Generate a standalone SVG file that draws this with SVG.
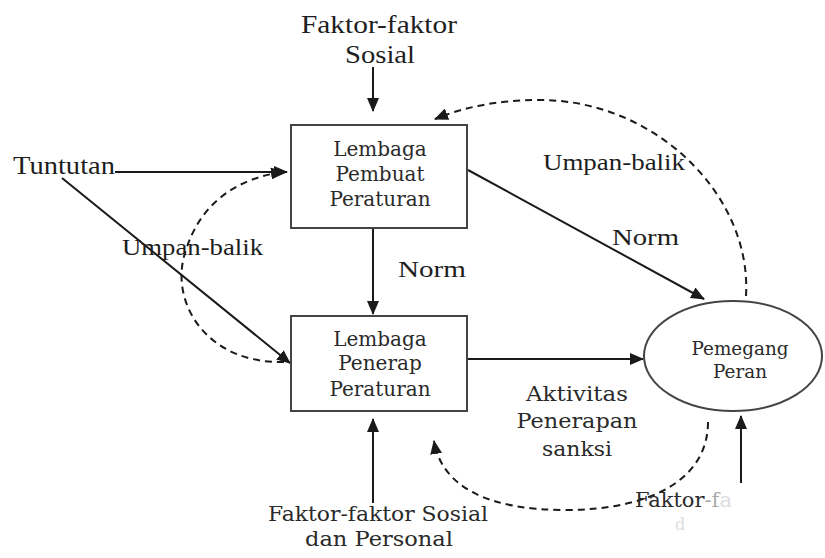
<svg xmlns="http://www.w3.org/2000/svg" width="825" height="558" viewBox="0 0 825 558">
<defs>
<marker id="ah" markerUnits="userSpaceOnUse" markerWidth="14" markerHeight="12" refX="13" refY="6" orient="auto">
<path d="M0,0 L14,6 L0,12 Z" fill="#1a1a1a"/>
</marker>
<style>
.t{font-family:"Liberation Serif","Times New Roman",serif;fill:#1e1e1e}
.c{font-family:"DejaVu Serif",serif;fill:#2a2a2a;text-anchor:middle}
.box{fill:#fff;stroke:#444;stroke-width:2}
.ln{fill:none;stroke:#1a1a1a;stroke-width:2}
.ds{fill:none;stroke:#1a1a1a;stroke-width:2;stroke-dasharray:7 5}
</style>
</defs>
<rect width="825" height="558" fill="#fff"/>
<g id="connectors">
<line class="ln" x1="373" y1="67" x2="373" y2="111" marker-end="url(#ah)"/>
<line class="ln" x1="115" y1="172" x2="287" y2="172" marker-end="url(#ah)"/>
<line class="ln" x1="62" y1="178" x2="290" y2="363" marker-end="url(#ah)"/>
<path class="ds" d="M284,362 C205,364 168,300 186,250 C200,205 235,178 284,172" marker-end="url(#ah)"/>
<line class="ln" x1="373" y1="228" x2="373" y2="314" marker-end="url(#ah)"/>
<line class="ln" x1="468" y1="170" x2="704" y2="299" marker-end="url(#ah)"/>
<line class="ln" x1="467" y1="359" x2="643" y2="359" marker-end="url(#ah)"/>
<line class="ln" x1="373" y1="503" x2="373" y2="419" marker-end="url(#ah)"/>
<line class="ln" x1="741" y1="483" x2="741" y2="416" marker-end="url(#ah)"/>
<path class="ds" d="M746,296 C752,195 655,100 540,100 C495,100 462,108 435,119" marker-end="url(#ah)"/>
<path class="ds" d="M708,422 C708,480 650,510 565,510 C490,510 442,488 434,441" marker-end="url(#ah)"/>
</g>
<g id="faktor-sosial-top">
<text class="t" x="301" y="33" style="font-size:25px" textLength="156" lengthAdjust="spacingAndGlyphs">Faktor-faktor</text>
<text class="t" x="345" y="63" style="font-size:25px" textLength="70" lengthAdjust="spacingAndGlyphs">Sosial</text>
</g>
<g id="tuntutan">
<text class="t" x="13" y="174" style="font-size:25px" textLength="102" lengthAdjust="spacingAndGlyphs">Tuntutan</text>
</g>
<g id="lembaga-pembuat">
<rect class="box" x="291" y="125" width="176" height="103"/>
<text class="c" x="380" y="156" style="font-size:20px">Lembaga</text>
<text class="c" x="380" y="181" style="font-size:20px">Pembuat</text>
<text class="c" x="380" y="206" style="font-size:20px">Peraturan</text>
</g>
<g id="lembaga-penerap">
<rect class="box" x="291" y="316" width="176" height="95"/>
<text class="c" x="380" y="346" style="font-size:20px">Lembaga</text>
<text class="c" x="380" y="370" style="font-size:20px">Penerap</text>
<text class="c" x="380" y="396" style="font-size:20px">Peraturan</text>
</g>
<g id="pemegang-peran">
<ellipse class="box" cx="733" cy="356" rx="89" ry="55"/>
<text class="c" x="740" y="355" style="font-size:18px" textLength="97" lengthAdjust="spacingAndGlyphs">Pemegang</text>
<text class="c" x="740" y="378" style="font-size:18px" textLength="54" lengthAdjust="spacingAndGlyphs">Peran</text>
</g>
<g id="labels">
<text class="t" x="122" y="255" style="font-size:23px" textLength="141" lengthAdjust="spacingAndGlyphs">Umpan-balik</text>
<text class="t" x="543" y="170" style="font-size:23px" textLength="142" lengthAdjust="spacingAndGlyphs">Umpan-balik</text>
<text class="t" x="612" y="245" style="font-size:23px" textLength="67" lengthAdjust="spacingAndGlyphs">Norm</text>
<text class="t" x="398" y="277" style="font-size:23px" textLength="68" lengthAdjust="spacingAndGlyphs">Norm</text>
<text class="c" x="577" y="401" style="font-size:21px" textLength="102" lengthAdjust="spacingAndGlyphs">Aktivitas</text>
<text class="c" x="577" y="428" style="font-size:21px" textLength="121" lengthAdjust="spacingAndGlyphs">Penerapan</text>
<text class="c" x="577" y="456" style="font-size:21px" textLength="70" lengthAdjust="spacingAndGlyphs">sanksi</text>
</g>
<g id="faktor-sosial-personal">
<text class="c" x="378" y="521" style="font-size:21px" textLength="220" lengthAdjust="spacingAndGlyphs">Faktor-faktor Sosial</text>
<text class="c" x="379" y="546" style="font-size:21px" textLength="148" lengthAdjust="spacingAndGlyphs">dan Personal</text>
</g>
<g id="faktor-kanan">
<text class="c" x="635" y="507" style="font-size:21px;text-anchor:start">Faktor<tspan style="fill:#aaa">-f</tspan><tspan style="fill:#ddd">a</tspan></text>
<text class="c" x="675" y="530" style="font-size:16px;text-anchor:start;fill:#ddd">d</text>
</g>
</svg>
